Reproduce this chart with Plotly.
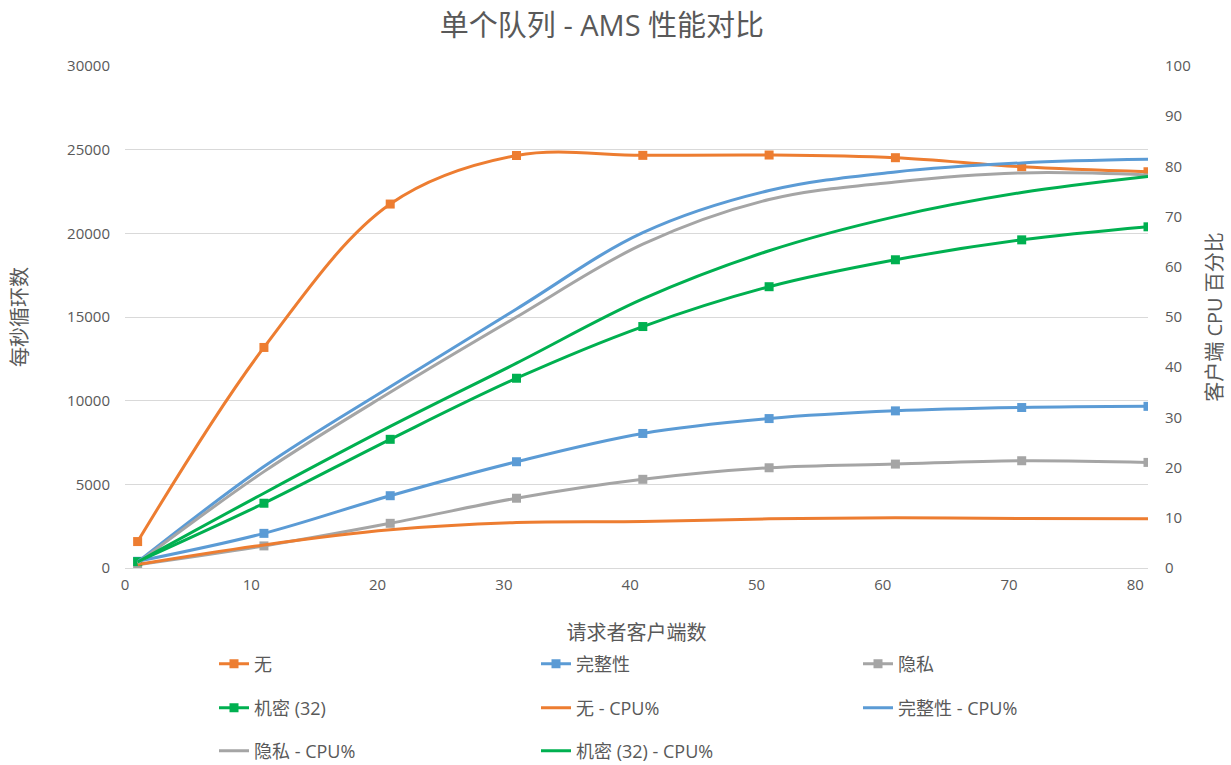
import plotly.graph_objects as go

clients = [1, 11, 21, 31, 41, 51, 61, 71, 81]

# loops per second (left axis)
none_ops = [1580, 13180, 21750, 24650, 24660, 24680, 24520, 23980, 23680]
integrity_ops = [400, 2070, 4320, 6350, 8040, 8930, 9390, 9590, 9660]
privacy_ops = [200, 1320, 2670, 4170, 5300, 5990, 6210, 6410, 6310]
secret_ops = [380, 3870, 7690, 11340, 14430, 16810, 18420, 19610, 20390]

# client CPU % (right axis)
none_cpu = [0.7, 4.6, 7.6, 9.05, 9.25, 9.8, 10.0, 9.85, 9.8]
integrity_cpu = [1.2, 20.2, 36.1, 51.6, 66.8, 75.2, 78.9, 80.7, 81.4]
privacy_cpu = [1.0, 19.2, 35.0, 50.0, 64.5, 73.4, 76.9, 78.7, 78.3]
secret_cpu = [1.2, 14.9, 28.2, 40.8, 53.6, 63.2, 70.0, 74.8, 78.0]

ORANGE = "#ED7D31"
BLUE = "#5B9BD5"
GRAY = "#A5A5A5"
GREEN = "#00B050"
TXT = "#595959"
FONT = "Open Sans, Noto Sans CJK SC, sans-serif"

fig = go.Figure()

ops_series = [
    ("无", none_ops, ORANGE, "legend"),
    ("完整性", integrity_ops, BLUE, "legend"),
    ("隐私", privacy_ops, GRAY, "legend"),
    ("机密 (32)", secret_ops, GREEN, "legend2"),
]
for name, vals, col, lg in ops_series:
    fig.add_trace(go.Scatter(
        x=clients, y=vals, name=name, mode="lines+markers",
        line=dict(color=col, width=3, shape="spline"),
        marker=dict(symbol="square", size=9, color=col),
        legend=lg, yaxis="y",
    ))

cpu_series = [
    ("无 - CPU%", none_cpu, ORANGE, "legend2"),
    ("完整性 - CPU%", integrity_cpu, BLUE, "legend2"),
    ("隐私 - CPU%", privacy_cpu, GRAY, "legend3"),
    ("机密 (32) - CPU%", secret_cpu, GREEN, "legend3"),
]
for name, vals, col, lg in cpu_series:
    fig.add_trace(go.Scatter(
        x=clients, y=vals, name=name, mode="lines",
        line=dict(color=col, width=3, shape="spline"),
        legend=lg, yaxis="y2",
    ))

leg_common = dict(
    orientation="h", xref="container", yref="container",
    x=214 / 1231, xanchor="left", yanchor="middle",
    entrywidth=277, entrywidthmode="pixels",
    font=dict(family=FONT, size=18, color=TXT),
    bgcolor="rgba(0,0,0,0)",
)

fig.update_layout(
    width=1231, height=765,
    margin=dict(l=125, r=83, t=66, b=197, autoexpand=False),
    paper_bgcolor="white", plot_bgcolor="white",
    font=dict(family=FONT, color=TXT),
    title=dict(text="单个队列 - AMS 性能对比", x=602 / 1231, xref="container",
               xanchor="center", y=1 - 26 / 765, yref="container", yanchor="middle",
               font=dict(family=FONT, size=29, color=TXT)),
    xaxis=dict(
        range=[0, 81], tickmode="array", tickvals=[0, 10, 20, 30, 40, 50, 60, 70, 80],
        showgrid=False, zeroline=False, showline=False, ticks="",
        tickfont=dict(family=FONT, size=15, color=TXT), ticklabelstandoff=6,
        title=dict(text="请求者客户端数", font=dict(family=FONT, size=20, color=TXT), standoff=33),
    ),
    yaxis=dict(
        range=[0, 30000], dtick=5000, tickformat="d", showgrid=True, gridcolor="#D9D9D9", gridwidth=1,
        zeroline=True, zerolinecolor="#D9D9D9", zerolinewidth=1, ticks="",
        tickfont=dict(family=FONT, size=15, color=TXT), ticklabelstandoff=14,
        title=dict(text="每秒循环数", font=dict(family=FONT, size=20, color=TXT), standoff=34),
    ),
    yaxis2=dict(
        range=[0, 100], dtick=10, overlaying="y", side="right", showgrid=False,
        zeroline=False, ticks="",
        tickfont=dict(family=FONT, size=15, color=TXT), ticklabelstandoff=16,
        title=dict(text="客户端 CPU 百分比", font=dict(family=FONT, size=20, color=TXT), standoff=18),
    ),
    legend=dict(leg_common, y=1 - 664 / 765),
    legend2=dict(leg_common, y=1 - 708 / 765),
    legend3=dict(leg_common, y=1 - 751 / 765),
)

fig.write_html("out.html")
